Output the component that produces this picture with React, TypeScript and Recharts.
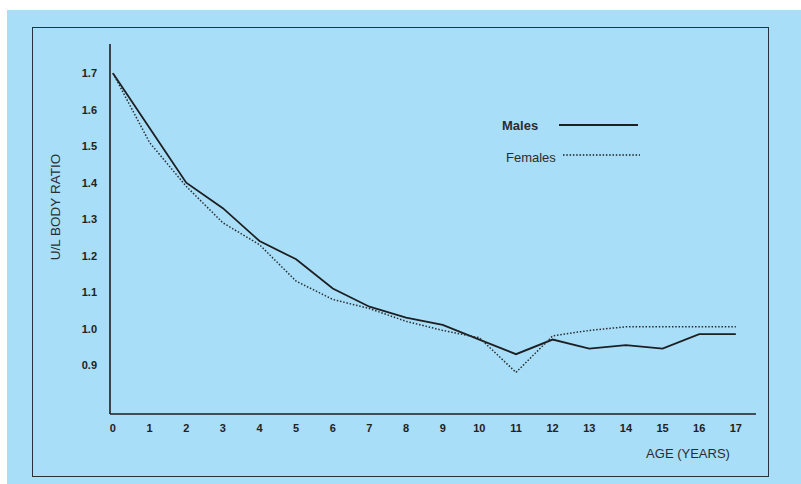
import { LineChart, Line, XAxis, YAxis, Legend } from 'recharts';

const ages = [0, 1, 2, 3, 4, 5, 6, 7, 8, 9, 10, 11, 12, 13, 14, 15, 16, 17];
const males = [1.7, 1.55, 1.4, 1.33, 1.24, 1.19, 1.11, 1.06, 1.03, 1.01, 0.97, 0.93, 0.97, 0.945, 0.955, 0.945, 0.985, 0.985];
const females = [1.7, 1.51, 1.39, 1.29, 1.23, 1.13, 1.08, 1.055, 1.02, 0.995, 0.975, 0.88, 0.98, 0.995, 1.005, 1.005, 1.005, 1.005];
const yTicks = [0.9, 1.0, 1.1, 1.2, 1.3, 1.4, 1.5, 1.6, 1.7];

const data = ages.map((age, i) => ({ age, Males: males[i], Females: females[i] }));

const FONT = '"Liberation Sans", Arial, Helvetica, sans-serif';
const INK = '#1d1f22';

function LegendBox({ payload }: any) {
  const rows = payload || [];
  return (
    <svg width={160} height={56} style={{ display: 'block', overflow: 'visible' }}>
      {rows.map((entry: any) => {
        const female = entry.value === 'Females';
        const y = female ? 45 : 13;
        return (
          <g key={entry.value}>
            <text
              x={female ? 11 : 7}
              y={y + 5}
              fontFamily={FONT}
              fontSize={13}
              fontWeight={female ? 400 : 600}
              fill="#2a2d30"
            >
              {entry.value}
            </text>
            <line
              x1={female ? 68 : 64}
              x2={female ? 145 : 143}
              y1={female ? y - 2 : y}
              y2={female ? y - 2 : y}
              stroke={INK}
              strokeWidth={female ? 1.5 : 1.8}
              strokeDasharray={female ? '1.5 1.8' : undefined}
            />
          </g>
        );
      })}
    </svg>
  );
}

export default function App() {
  return (
    <div style={{ position: 'absolute', left: 0, top: 0, width: 801, height: 484, background: '#ffffff', overflow: 'hidden' }}>
      <div style={{ position: 'absolute', left: 7, top: 10, width: 794, height: 474, background: '#a8def8' }} />
      <div
        style={{
          position: 'absolute',
          left: 32,
          top: 27,
          width: 737,
          height: 450,
          border: '1.6px solid #27323b',
          boxSizing: 'border-box',
        }}
      />
      <div style={{ position: 'absolute', left: 0, top: 0 }}>
        <LineChart width={801} height={484} data={data} margin={{ top: 44, right: 45, bottom: 40, left: 30 }}>
          <XAxis
            dataKey="age"
            type="number"
            domain={[-0.08, 17.55]}
            ticks={ages}
            allowDataOverflow
            interval={0}
            height={30}
            tickLine={false}
            tickSize={8}
            tickMargin={2}
            axisLine={{ stroke: INK, strokeWidth: 1.6 }}
            tick={{ fill: '#222', fontSize: 11, fontFamily: FONT, fontWeight: 600 }}
            label={{
              value: 'AGE (YEARS)',
              position: 'insideBottomRight',
              content: () => (
                <text x={688} y={458} textAnchor="middle" fontFamily={FONT} fontSize={13} fill="#2a2d30">
                  AGE (YEARS)
                </text>
              ),
            }}
          />
          <YAxis
            type="number"
            domain={[0.766, 1.78]}
            ticks={yTicks}
            allowDataOverflow
            interval={0}
            width={80}
            tickLine={false}
            tickSize={11}
            tickMargin={2}
            tickFormatter={(v: number) => v.toFixed(1)}
            axisLine={{ stroke: INK, strokeWidth: 1.6 }}
            tick={{ fill: '#222', fontSize: 11, fontFamily: FONT, fontWeight: 600 }}
            label={{
              value: 'U/L BODY RATIO',
              position: 'insideLeft',
              content: () => (
                <text
                  x={60}
                  y={207}
                  transform="rotate(-90 60 207)"
                  textAnchor="middle"
                  fontFamily={FONT}
                  fontSize={13.5}
                  fill="#2a2d30"
                >
                  U/L BODY RATIO
                </text>
              ),
            }}
          />
          <Legend
            layout="vertical"
            align="center"
            verticalAlign="middle"
            wrapperStyle={{ left: 495, top: 112, width: 160, height: 56 }}
            content={LegendBox}
          />
          <Line
            type="linear"
            dataKey="Males"
            stroke={INK}
            strokeWidth={1.8}
            dot={false}
            activeDot={false}
            isAnimationActive={false}
          />
          <Line
            type="linear"
            dataKey="Females"
            stroke="#2a2d30"
            strokeWidth={1.5}
            strokeDasharray="1.5 1.8"
            dot={false}
            activeDot={false}
            isAnimationActive={false}
          />
        </LineChart>
      </div>
    </div>
  );
}
